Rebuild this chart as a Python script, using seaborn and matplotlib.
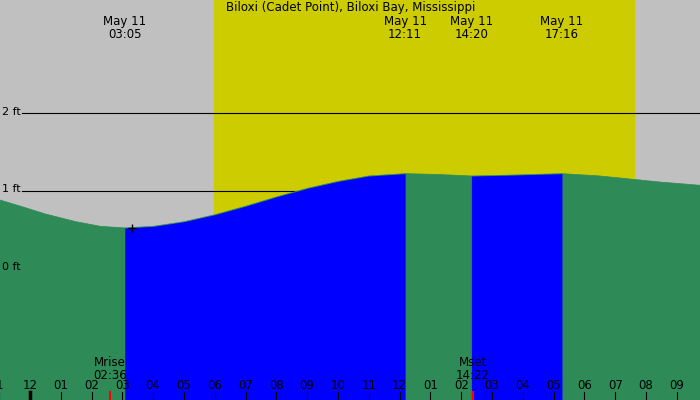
import numpy as np
import pandas as pd
import matplotlib
matplotlib.use("Agg")
import matplotlib.pyplot as plt
import seaborn as sns

# tide curve (hours from midnight May 11, feet)
tide_hours = [-0.97, -0.3, 0.5, 1.5, 2.3, 3.08, 4.0, 5.0, 6.0, 7.0, 8.0, 9.0, 10.0,
              11.0, 12.18, 13.2, 14.33, 15.5, 17.27, 18.5, 19.5, 20.5, 21.75]
tide_feet = [0.88, 0.80, 0.70, 0.60, 0.54, 0.52, 0.54, 0.60, 0.69, 0.80, 0.92, 1.03, 1.12,
             1.19, 1.22, 1.21, 1.19, 1.20, 1.22, 1.19, 1.15, 1.11, 1.07]

# rising tide stretches (low -> high)
rising = [(3.08, 12.18), (14.33, 17.27)]
event_times = [3.08, 12.18, 14.33, 17.27]
event_labels = ["May 11\n03:05", "May 11\n12:11", "May 11\n14:20", "May 11\n17:16"]
sunrise, sunset = 5.97, 19.62
moonrise, moonset = 2.6, 14.37
hour_ticks = list(range(-1, 22))
hour_labels = ["1", "12", "01", "02", "03", "04", "05", "06", "07", "08", "09", "10", "11",
               "12", "01", "02", "03", "04", "05", "06", "07", "08", "09"]
ft_lines = [0, 1, 2]

x0, x1 = -0.97, 21.75
y0, y1 = -1.7, 3.46

df = pd.DataFrame({"hour": tide_hours, "ft": tide_feet})

fig = plt.figure(figsize=(7, 4), dpi=100)
ax = fig.add_axes([0, 0, 1, 1])
ax.set_xlim(x0, x1)
ax.set_ylim(y0, y1)
ax.axis("off")

ax.axvspan(x0, x1, color="#c0c0c0", zorder=0)
ax.axvspan(sunrise, sunset, color="#cccc00", zorder=0)

for f in ft_lines[1:]:
    ax.plot([-0.25, x1], [f, f], color="black", lw=0.8, zorder=1)
for f in ft_lines:
    ax.text(-0.9, f + 0.02, f"{f} ft", fontsize=8, va="center", ha="left", zorder=5)

xs = np.array(tide_hours)
ys = np.array(tide_feet)
ax.fill_between(xs, y0, ys, color="#2e8b57", lw=0, zorder=2)
for a, b in rising:
    m = (xs >= a) & (xs <= b)
    ax.fill_between(xs[m], y0, ys[m], color="#0000ff", lw=0, zorder=3)
sns.lineplot(data=df, x="hour", y="ft", ax=ax, color="#2e8b57", lw=0.5, zorder=2)
ax.plot([3.3], [0.52], marker="+", color="black", ms=6, zorder=4)

for t, lab in zip(event_times, event_labels):
    ax.text(t, 3.1, lab, fontsize=8.5, ha="center", va="center", linespacing=0.95, zorder=5)
ax.text(10.4, 3.36, "Biloxi (Cadet Point), Biloxi Bay, Mississippi", fontsize=8.5,
        ha="center", va="center", zorder=5)

ax.text(moonrise, -1.3, "Mrise\n02:36", fontsize=8.5, ha="center", va="center",
        linespacing=0.95, zorder=5)
ax.text(moonset, -1.3, "Mset\n14:22", fontsize=8.5, ha="center", va="center",
        linespacing=0.95, zorder=5)

for t, lab in zip(hour_ticks, hour_labels):
    ax.text(t, -1.51, lab, fontsize=8.5, ha="center", va="center", zorder=5)
    ax.plot([t, t], [y0, y0 + 0.1], color="black", lw=0.8, zorder=5)
ax.plot([0, 0], [y0, y0 + 0.1], color="black", lw=2.5, zorder=6)
for t in (moonrise, moonset):
    ax.plot([t, t], [y0, y0 + 0.1], color="red", lw=1.5, zorder=6)

fig.savefig("out.png", dpi=100)
